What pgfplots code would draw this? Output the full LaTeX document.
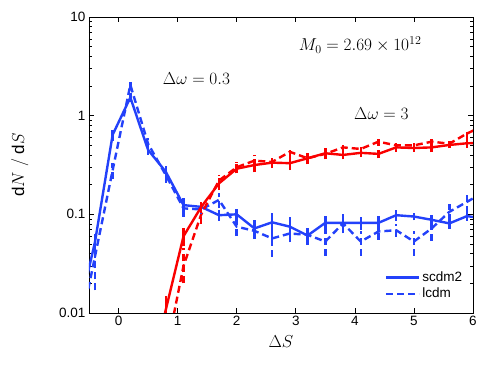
\documentclass[border=0pt]{standalone}
\usepackage{fontspec}
\setmainfont{Liberation Sans}
\usepackage{pgfplots}
\usepackage{pgfplotstable}
\pgfplotsset{compat=1.18}
\definecolor{mblue}{RGB}{35,65,250}
\definecolor{mred}{RGB}{250,0,0}

% curves: Delta omega = 0.3 (blue) and 3 (red)
\pgfplotstableread{
x    y
-0.7 0.0086
-0.4 0.052
-0.1 0.64
0.2  1.53
0.5  0.45
0.8  0.27
1.1  0.124
1.4  0.119
1.7  0.098
2.0  0.100
2.3  0.072
2.6  0.083
2.9  0.075
3.2  0.061
3.5  0.082
3.8  0.082
4.1  0.082
4.4  0.082
4.7  0.098
5.0  0.095
5.3  0.088
5.6  0.081
5.9  0.096
6.2  0.090
}\scdmlow

\pgfplotstableread{
x    y
-0.7 0.005
-0.4 0.037
-0.1 0.28
0.2  2.05
0.5  0.52
0.8  0.25
1.1  0.115
1.4  0.112
1.7  0.140
2.0  0.075
2.3  0.068
2.6  0.057
2.9  0.064
3.2  0.062
3.5  0.053
3.8  0.081
4.1  0.053
4.4  0.067
4.7  0.069
5.0  0.053
5.3  0.072
5.6  0.106
5.9  0.134
6.2  0.170
}\lcdmlow

\pgfplotstableread{
x    y
0.5  0.002
0.8  0.0108
1.1  0.060
1.4  0.119
1.7  0.206
2.0  0.290
2.3  0.316
2.6  0.334
2.9  0.330
3.2  0.370
3.5  0.416
3.8  0.400
4.1  0.420
4.4  0.410
4.7  0.477
5.0  0.470
5.3  0.477
5.6  0.505
5.9  0.525
6.2  0.530
}\scdmhigh

\pgfplotstableread{
x    y
0.5  0.0008
0.8  0.0038
1.1  0.030
1.4  0.100
1.7  0.220
2.0  0.300
2.3  0.350
2.6  0.340
2.9  0.430
3.2  0.370
3.5  0.410
3.8  0.477
4.1  0.460
4.4  0.545
4.7  0.500
5.0  0.500
5.3  0.545
5.6  0.520
5.9  0.660
6.2  0.800
}\lcdmhigh

% error bars: low end, high end, break
\pgfplotstableread[row sep=\\]{
x y \\
-0.4 0.036 \\ -0.4 0.063 \\ -0.4 nan \\
-0.1 0.56 \\ -0.1 0.72 \\ -0.1 nan \\
0.2 1.38 \\ 0.2 1.68 \\ 0.2 nan \\
0.5 0.40 \\ 0.5 0.50 \\ 0.5 nan \\
0.8 0.23 \\ 0.8 0.31 \\ 0.8 nan \\
1.1 0.100 \\ 1.1 0.147 \\ 1.1 nan \\
1.4 0.109 \\ 1.4 0.129 \\ 1.4 nan \\
1.7 0.086 \\ 1.7 0.110 \\ 1.7 nan \\
2.0 0.087 \\ 2.0 0.113 \\ 2.0 nan \\
2.3 0.057 \\ 2.3 0.087 \\ 2.3 nan \\
2.6 0.053 \\ 2.6 0.103 \\ 2.6 nan \\
2.9 0.055 \\ 2.9 0.095 \\ 2.9 nan \\
3.2 0.049 \\ 3.2 0.073 \\ 3.2 nan \\
3.5 0.067 \\ 3.5 0.097 \\ 3.5 nan \\
3.8 0.064 \\ 3.8 0.100 \\ 3.8 nan \\
4.1 0.070 \\ 4.1 0.094 \\ 4.1 nan \\
4.4 0.068 \\ 4.4 0.096 \\ 4.4 nan \\
4.7 0.086 \\ 4.7 0.110 \\ 4.7 nan \\
5.0 0.087 \\ 5.0 0.103 \\ 5.0 nan \\
5.3 0.078 \\ 5.3 0.098 \\ 5.3 nan \\
5.6 0.071 \\ 5.6 0.091 \\ 5.6 nan \\
5.9 0.086 \\ 5.9 0.106 \\
}\errscdmlow

\pgfplotstableread[row sep=\\]{
x y \\
-0.4 0.017 \\ -0.4 0.060 \\ -0.4 nan \\
-0.1 0.23 \\ -0.1 0.33 \\ -0.1 nan \\
0.2 1.85 \\ 0.2 2.25 \\ 0.2 nan \\
0.5 0.44 \\ 0.5 0.60 \\ 0.5 nan \\
0.8 0.21 \\ 0.8 0.29 \\ 0.8 nan \\
1.1 0.095 \\ 1.1 0.135 \\ 1.1 nan \\
1.4 0.100 \\ 1.4 0.124 \\ 1.4 nan \\
1.7 0.115 \\ 1.7 0.165 \\ 1.7 nan \\
2.0 0.060 \\ 2.0 0.090 \\ 2.0 nan \\
2.3 0.056 \\ 2.3 0.080 \\ 2.3 nan \\
2.6 0.037 \\ 2.6 0.077 \\ 2.6 nan \\
2.9 0.052 \\ 2.9 0.076 \\ 2.9 nan \\
3.2 0.052 \\ 3.2 0.072 \\ 3.2 nan \\
3.5 0.038 \\ 3.5 0.068 \\ 3.5 nan \\
3.8 0.069 \\ 3.8 0.093 \\ 3.8 nan \\
4.1 0.038 \\ 4.1 0.068 \\ 4.1 nan \\
4.4 0.055 \\ 4.4 0.079 \\ 4.4 nan \\
4.7 0.059 \\ 4.7 0.079 \\ 4.7 nan \\
5.0 0.038 \\ 5.0 0.068 \\ 5.0 nan \\
5.3 0.054 \\ 5.3 0.090 \\ 5.3 nan \\
5.6 0.086 \\ 5.6 0.126 \\ 5.6 nan \\
5.9 0.104 \\ 5.9 0.164 \\
}\errlcdmlow

\pgfplotstableread[row sep=\\]{
x y \\
0.8 0.0088 \\ 0.8 0.0148 \\ 0.8 nan \\
1.1 0.048 \\ 1.1 0.072 \\ 1.1 nan \\
1.4 0.104 \\ 1.4 0.134 \\ 1.4 nan \\
1.7 0.176 \\ 1.7 0.236 \\ 1.7 nan \\
2.0 0.26 \\ 2.0 0.32 \\ 2.0 nan \\
2.3 0.266 \\ 2.3 0.366 \\ 2.3 nan \\
2.6 0.294 \\ 2.6 0.374 \\ 2.6 nan \\
2.9 0.28 \\ 2.9 0.38 \\ 2.9 nan \\
3.2 0.33 \\ 3.2 0.41 \\ 3.2 nan \\
3.5 0.366 \\ 3.5 0.466 \\ 3.5 nan \\
3.8 0.36 \\ 3.8 0.44 \\ 3.8 nan \\
4.1 0.38 \\ 4.1 0.46 \\ 4.1 nan \\
4.4 0.37 \\ 4.4 0.45 \\ 4.4 nan \\
4.7 0.427 \\ 4.7 0.527 \\ 4.7 nan \\
5.0 0.43 \\ 5.0 0.51 \\ 5.0 nan \\
5.3 0.427 \\ 5.3 0.527 \\ 5.3 nan \\
5.6 0.465 \\ 5.6 0.545 \\ 5.6 nan \\
5.9 0.475 \\ 5.9 0.575 \\
}\errscdmhigh

\pgfplotstableread[row sep=\\]{
x y \\
0.8 0.0028 \\ 0.8 0.0058 \\ 0.8 nan \\
1.1 0.020 \\ 1.1 0.046 \\ 1.1 nan \\
1.4 0.080 \\ 1.4 0.120 \\ 1.4 nan \\
1.7 0.19 \\ 1.7 0.25 \\ 1.7 nan \\
2.0 0.26 \\ 2.0 0.34 \\ 2.0 nan \\
2.3 0.30 \\ 2.3 0.40 \\ 2.3 nan \\
2.6 0.30 \\ 2.6 0.38 \\ 2.6 nan \\
2.9 0.38 \\ 2.9 0.48 \\ 2.9 nan \\
3.2 0.32 \\ 3.2 0.42 \\ 3.2 nan \\
3.5 0.36 \\ 3.5 0.46 \\ 3.5 nan \\
3.8 0.427 \\ 3.8 0.527 \\ 3.8 nan \\
4.1 0.41 \\ 4.1 0.51 \\ 4.1 nan \\
4.4 0.495 \\ 4.4 0.595 \\ 4.4 nan \\
4.7 0.45 \\ 4.7 0.55 \\ 4.7 nan \\
5.0 0.45 \\ 5.0 0.55 \\ 5.0 nan \\
5.3 0.495 \\ 5.3 0.595 \\ 5.3 nan \\
5.6 0.48 \\ 5.6 0.56 \\ 5.6 nan \\
5.9 0.58 \\ 5.9 0.74 \\
}\errlcdmhigh

\begin{document}
\begin{tikzpicture}
\begin{axis}[
  scale only axis, width=384pt, height=296pt,
  ymode=log, xmin=-0.5, xmax=6, ymin=0.01, ymax=10,
  xtick={0,1,2,3,4,5,6}, xticklabels={0,1,2,3,4,5,6},
  ytick={0.01,0.1,1,10}, yticklabels={0.01,0.1,1,10},
  tick pos=both, tick align=inside,
  major tick length=5pt, minor tick length=3pt,
  tick label style={font=\fontsize{13.5}{15}\selectfont},
  axis line style={line width=0.8pt},
  tick style={black, line width=0.6pt},
  xlabel={$\Delta S$}, ylabel={$\mathrm{d}N\ /\ \mathrm{d}S$},
  label style={font=\fontsize{17}{19}\selectfont},
  xlabel style={at={(axis description cs:0.5,-0.098)}, anchor=center},
  ylabel style={at={(axis description cs:-0.18,0.5)}, anchor=center},
  legend style={draw=none, fill=none, at={(axis description cs:0.98,0.15)}, anchor=north east,
    font=\fontsize{13.5}{15}\selectfont, row sep=1pt, inner sep=1pt},
  legend cell align=left,
  legend image code/.code={\draw[#1] (0pt,0pt) -- (33pt,0pt);},
  unbounded coords=jump,
  every axis plot/.append style={line width=2.4pt},
]
\addplot[mblue] table[x=x, y=y]{\scdmlow};
\addlegendentry{scdm2}
\addplot[mblue, dash pattern=on 7pt off 4pt] table[x=x, y=y]{\lcdmlow};
\addlegendentry{lcdm}
\addplot[mred, forget plot] table[x=x, y=y]{\scdmhigh};
\addplot[mred, dash pattern=on 7pt off 4pt, forget plot] table[x=x, y=y]{\lcdmhigh};
% error bars
\addplot[mblue, forget plot] table[x=x, y=y]{\errscdmlow};
\addplot[mblue, dash pattern=on 7pt off 4pt, forget plot] table[x=x, y=y]{\errlcdmlow};
\addplot[mred, forget plot] table[x=x, y=y]{\errscdmhigh};
\addplot[mred, dash pattern=on 7pt off 4pt, forget plot] table[x=x, y=y]{\errlcdmhigh};
\node[font=\fontsize{18}{20}\selectfont] at (axis cs:1.32,2.36) {$\Delta\omega = 0.3$};
\node[font=\fontsize{18}{20}\selectfont] at (axis cs:4.45,1.06) {$\Delta\omega = 3$};
\node[font=\fontsize{16.5}{19}\selectfont] at (axis cs:4.09,5.2) {$M_0 = 2.69 \times 10^{12}$};
\end{axis}
\pgfresetboundingbox
\path (-89pt,-56pt) rectangle (402pt,313pt);
\end{tikzpicture}
\end{document}
